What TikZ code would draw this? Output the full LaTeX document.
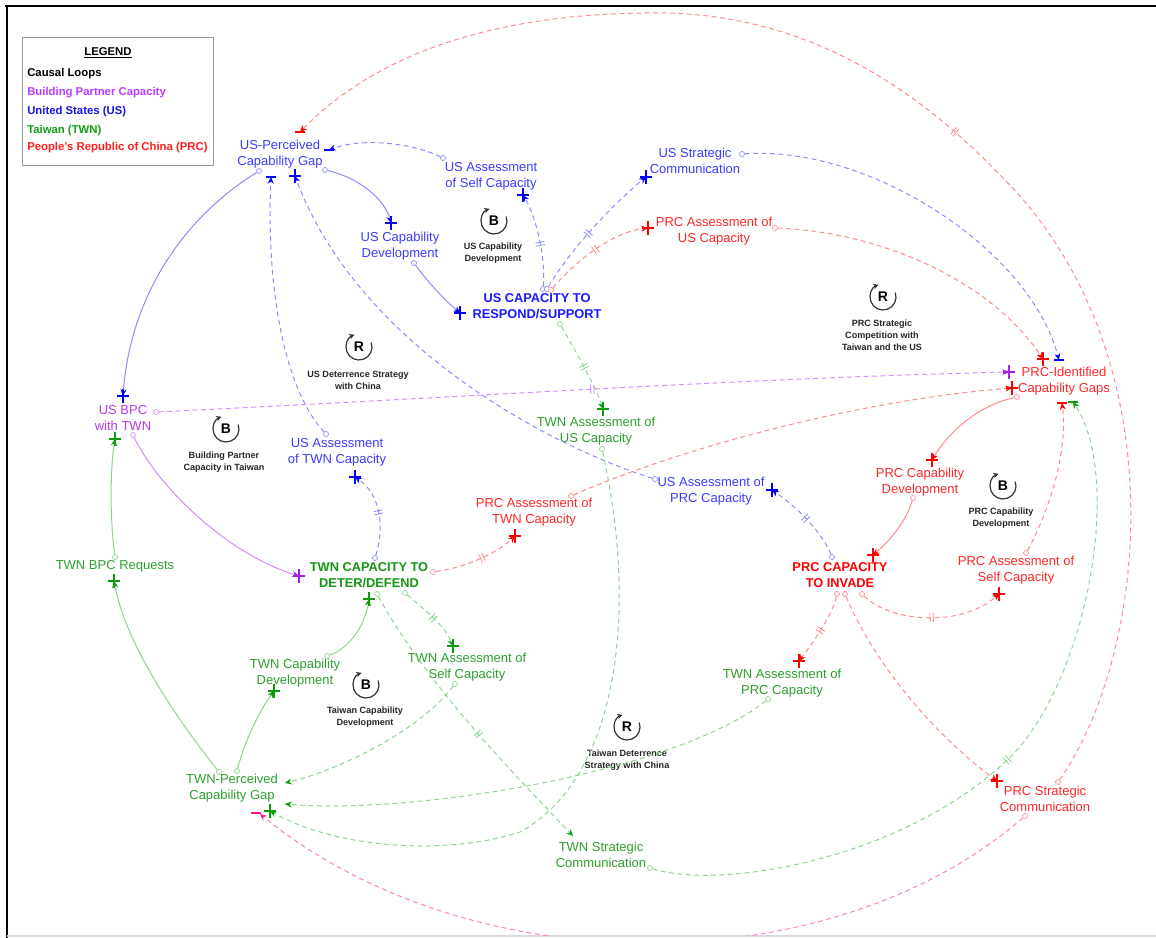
\documentclass[tikz,border=0pt]{standalone}
\usepackage{fontspec}
\setmainfont{Liberation Sans}
\usetikzlibrary{arrows.meta,decorations.markings}

% palette
\definecolor{usT}{RGB}{60,60,255}
\definecolor{usB}{RGB}{25,25,255}
\definecolor{usS}{RGB}{0,0,255}
\definecolor{usL}{RGB}{140,140,255}
\definecolor{prcT}{RGB}{255,40,40}
\definecolor{prcS}{RGB}{255,0,0}
\definecolor{prcL}{RGB}{255,140,140}
\definecolor{twnT}{RGB}{45,160,45}
\definecolor{twnB}{RGB}{20,150,20}
\definecolor{twnS}{RGB}{10,155,10}
\definecolor{twnL}{RGB}{140,215,140}
\definecolor{bpcT}{RGB}{180,60,230}
\definecolor{bpcS}{RGB}{165,30,240}
\definecolor{bpcL}{RGB}{210,140,255}
\definecolor{pinkL}{RGB}{255,130,200}
\definecolor{pinkS}{RGB}{255,20,140}

\tikzset{
  var/.style={align=center,inner sep=1pt,font=\fontsize{9.75}{12}\selectfont},
  key/.style={align=center,inner sep=1pt,font=\fontsize{9.6}{12}\selectfont\bfseries},
  looptxt/.style={align=center,inner sep=0pt,font=\fontsize{6.8}{9}\selectfont\bfseries,text=black!85},
  legtxt/.style={anchor=west,inner sep=0pt,font=\fontsize{8.5}{10}\selectfont\bfseries},
  tailo/.style={circle,fill=white,inner sep=0pt,minimum size=3.8pt,line width=0.5pt},
  lk/.style={line width=0.75pt},
  dsh/.style={dash pattern=on 3.6pt off 2.7pt},
  lkU/.style={lk,color=usL,-{Stealth[length=5pt,width=4.5pt,color=usS]}},
  lkR/.style={lk,color=prcL,-{Stealth[length=5pt,width=4.5pt,color=prcS]}},
  lkG/.style={lk,color=twnL,-{Stealth[length=5pt,width=4.5pt,color=twnS]}},
  lkP/.style={lk,color=bpcL,-{Stealth[length=5pt,width=4.5pt,color=bpcS]}},
  lkK/.style={lk,color=pinkL,-{Stealth[length=5pt,width=4.5pt,color=pinkS]}},
  delaymark/.style={postaction={decorate},decoration={markings,
      mark=at position #1 with {\draw[solid,arrows=-,line width=0.6pt] (-1.6,-4.5)--(-1.6,4.5) (1.6,-4.5)--(1.6,4.5);}}},
  psign/.pic={\draw[line width=1.9pt] (-6,0)--(6,0) (0,-7)--(0,7);},
  msign/.pic={\draw[line width=1.9pt] (-5,0)--(5,0);},
  loopsym/.pic={\draw[line width=0.9pt,black!80,-{Stealth[length=4pt,width=4pt]}] (-20:13) arc[start angle=-20,end angle=250,radius=13];
                \node[font=\fontsize{10.5}{11}\selectfont\bfseries] {\tikzpictext};},
}

\begin{document}
\begin{tikzpicture}[x=0.75pt,y=-0.75pt]
\useasboundingbox (0,0) rectangle (1156,938);
\fill[white] (0,0) rectangle (1156,938);

% frame
\draw[line width=1.6pt] (5,6) -- (1156,6);
\draw[line width=1.6pt] (7,6) -- (7,938);
\draw[black!15,line width=1pt] (7,936) -- (1156,936);

% legend
\node[draw=black!40,line width=0.9pt,anchor=north west,minimum width=143.25pt,minimum height=96pt,inner sep=0pt] (legend) at (22,37) {};
\node[inner sep=0pt,font=\fontsize{8.5}{10}\selectfont\bfseries] (legtitle) at (108,53) {\underline{LEGEND}};
\node[legtxt,text=black] (leg1) at (27,74) {Causal Loops};
\node[legtxt,text={rgb,255:red,185;green,60;blue,255}] (leg2) at (27,93) {Building Partner Capacity};
\node[legtxt,text={rgb,255:red,20;green,20;blue,230}] (leg3) at (27,112) {United States (US)};
\node[legtxt,text={rgb,255:red,20;green,160;blue,20}] (leg4) at (27,131) {Taiwan (TWN)};
\node[legtxt,text={rgb,255:red,255;green,30;blue,30}] (leg5) at (27,148) {People's Republic of China (PRC)};

% loop markers
\pic[pic text=B] (loopA) at (494,221) {loopsym};
\node[looptxt] (loopAt) at (493,253) {US Capability\\Development};
\pic[pic text=R] (loopB) at (883,297) {loopsym};
\node[looptxt] (loopBt) at (882,335) {PRC Strategic\\Competition with\\Taiwan and the US};
\pic[pic text=R] (loopC) at (359,347) {loopsym};
\node[looptxt] (loopCt) at (358,380) {US Deterrence Strategy\\with China};
\pic[pic text=B] (loopD) at (226,429) {loopsym};
\node[looptxt] (loopDt) at (224,462) {Building Partner\\Capacity in Taiwan};
\pic[pic text=B] (loopE) at (1003,486) {loopsym};
\node[looptxt] (loopEt) at (1001,518) {PRC Capability\\Development};
\pic[pic text=B] (loopF) at (366,685) {loopsym};
\node[looptxt] (loopFt) at (365,717) {Taiwan Capability\\Development};
\pic[pic text=R] (loopG) at (627,727) {loopsym};
\node[looptxt] (loopGt) at (627,760) {Taiwan Deterrence\\Strategy with China};

% variables
\node[var,text=usT] (usgap) at (280,154) {US-Perceived\\Capability Gap};
\node[var,text=usT] (usself) at (491,176) {US Assessment\\of Self Capacity};
\node[var,text=usT] (usstrat) at (695,161) {US Strategic\\Communication};
\node[var,text=prcT] (prcassus) at (714,231) {PRC Assessment of\\US Capacity};
\node[var,text=usT] (uscapdev) at (400,246) {US Capability\\Development};
\node[key,text=usB] (uscap) at (537,306) {US CAPACITY TO\\RESPOND/SUPPORT};
\node[var,text=prcT] (prcgaps) at (1064,381) {PRC-Identified\\Capability Gaps};
\node[var,text=bpcT] (usbpc) at (123,418) {US BPC\\with TWN};
\node[var,text=usT] (usasstwn) at (337,452) {US Assessment\\of TWN Capacity};
\node[var,text=twnT] (twnassus) at (596,431) {TWN Assessment of\\US Capacity};
\node[var,text=usT] (usassprc) at (711,491) {US Assessment of\\PRC Capacity};
\node[var,text=prcT] (prcasstwn) at (534,512) {PRC Assessment of\\TWN Capacity};
\node[var,text=prcT] (prccapdev) at (920,482) {PRC Capability\\Development};
\node[var,text=prcT] (prcself) at (1016,570) {PRC Assessment of\\Self Capacity};
\node[var,text=twnT] (twnbpc) at (115,566) {TWN BPC Requests};
\node[key,text=twnB] (twncap) at (369,575) {TWN CAPACITY TO\\DETER/DEFEND};
\node[key,text=prcS] (prccap) at (840,575) {PRC CAPACITY\\TO INVADE};
\node[var,text=twnT] (twncapdev) at (295,673) {TWN Capability\\Development};
\node[var,text=twnT] (twnself) at (467,667) {TWN Assessment of\\Self Capacity};
\node[var,text=twnT] (twnassprc) at (782,683) {TWN Assessment of\\PRC Capacity};
\node[var,text=twnT] (twngap) at (232,788) {TWN-Perceived\\Capability Gap};
\node[var,text=twnT] (twnstrat) at (601,855) {TWN Strategic\\Communication};
\node[var,text=prcT] (prcstrat) at (1045,799) {PRC Strategic\\Communication};

% link tails (small open circles)
\node[tailo,draw=usL]  (t1)  at (325,170) {};
\node[tailo,draw=usL]  (t2)  at (414,263) {};
\node[tailo,draw=usL]  (t3)  at (543,289) {};
\node[tailo,draw=usL]  (t4)  at (443,158) {};
\node[tailo,draw=usL]  (t5)  at (547,289) {};
\node[tailo,draw=prcL] (t6)  at (551,290) {};
\node[tailo,draw=usL]  (t7)  at (742,154) {};
\node[tailo,draw=prcL] (t8)  at (775,228) {};
\node[tailo,draw=bpcL] (t9)  at (156,412) {};
\node[tailo,draw=prcL] (t10) at (571,496) {};
\node[tailo,draw=prcL] (t11) at (1017,397) {};
\node[tailo,draw=prcL] (t12) at (913,498) {};
\node[tailo,draw=prcL] (t13) at (862,594) {};
\node[tailo,draw=prcL] (t14) at (1026,553) {};
\node[tailo,draw=prcL] (t15) at (837,594) {};
\node[tailo,draw=prcL] (t16) at (845,594) {};
\node[tailo,draw=pinkL] (t17) at (1025,816) {};
\node[tailo,draw=prcL] (t18) at (1058,782) {};
\node[tailo,draw=twnL] (t19) at (560,324) {};
\node[tailo,draw=twnL] (t20) at (602,449) {};
\node[tailo,draw=twnL] (t21) at (768,699) {};
\node[tailo,draw=twnL] (t22) at (455,684) {};
\node[tailo,draw=twnL] (t23) at (405,593) {};
\node[tailo,draw=twnL] (t24) at (377,594) {};
\node[tailo,draw=twnL] (t25) at (650,868) {};
\node[tailo,draw=twnL] (t26) at (237,771) {};
\node[tailo,draw=twnL] (t27) at (327,656) {};
\node[tailo,draw=twnL] (t28) at (219,772) {};
\node[tailo,draw=twnL] (t29) at (115,557) {};
\node[tailo,draw=bpcL] (t30) at (133,435) {};
\node[tailo,draw=usL]  (t31) at (259,171) {};
\node[tailo,draw=usL]  (t32) at (326,434) {};
\node[tailo,draw=usL]  (t33) at (655,479) {};
\node[tailo,draw=usL]  (t34) at (375,558) {};
\node[tailo,draw=usL]  (t35) at (832,557) {};
\node[tailo,draw=prcL] (t36) at (433,572) {};

% link heads
\coordinate (h1)  at (391,223);
\coordinate (h2)  at (460,313);
\coordinate (h3)  at (523,195);
\coordinate (h4)  at (329,150);
\coordinate (h5)  at (646,177);
\coordinate (h6)  at (648,228);
\coordinate (h7)  at (1059,360);
\coordinate (h8)  at (1043,359);
\coordinate (h9)  at (1009,372);
\coordinate (h10) at (1012,388);
\coordinate (h11) at (932,460);
\coordinate (h12) at (873,555);
\coordinate (h13) at (999,594);
\coordinate (h14) at (1062,403);
\coordinate (h15) at (799,661);
\coordinate (h16) at (997,781);
\coordinate (h17) at (260,814);
\coordinate (h17s) at (256,813);
\coordinate (h18) at (300,132);
\coordinate (h19) at (603,409);
\coordinate (h20) at (270,811);
\coordinate (h21) at (285,804);
\coordinate (h22) at (285,783);
\coordinate (h23) at (453,646);
\coordinate (h24) at (573,836);
\coordinate (h25) at (1073,402);
\coordinate (h26) at (274,691);
\coordinate (h27) at (369,599);
\coordinate (h28) at (114,581);
\coordinate (h29) at (115,439);
\coordinate (h30) at (299,576);
\coordinate (h31) at (123,396);
\coordinate (h32) at (271,177);
\coordinate (h33) at (295,176);
\coordinate (h34) at (355,477);
\coordinate (h35) at (772,490);
\coordinate (h36) at (515,536);

\begin{scope}
\clip (8,7) rectangle (1156,935);
% United States links
\draw[lkU] (t1) .. controls (360,178) and (385,200) .. (h1);
\draw[lkU] (t2) .. controls (430,285) and (447,302) .. (h2);
\draw[lkU,dsh,delaymark=0.45] (t3) .. controls (546,255) and (535,215) .. (h3);
\draw[lkU,dsh] (t4) .. controls (410,142) and (360,138) .. (h4);
\draw[lkU,dsh,delaymark=0.45] (t5) .. controls (570,250) and (612,205) .. (h5);
\draw[lkU,dsh] (t7) .. controls (870,145) and (1030,250) .. (h7);
\draw[lkU] (t31) .. controls (180,220) and (130,300) .. (h31);
\draw[lkU,dsh] (t32) .. controls (285,390) and (266,290) .. (h32);
\draw[lkU,dsh] (t33) .. controls (560,450) and (360,350) .. (h33);
\draw[lkU,dsh,delaymark=0.5] (t34) .. controls (384,530) and (382,495) .. (h34);
\draw[lkU,dsh,delaymark=0.5] (t35) .. controls (822,532) and (797,507) .. (h35);
% PRC links
\draw[lkR,dsh,delaymark=0.5] (t6) .. controls (575,262) and (612,232) .. (h6);
\draw[lkR,dsh] (t8) .. controls (880,232) and (990,280) .. (h8);
\draw[lkR,dsh] (t10) .. controls (700,440) and (880,398) .. (h10);
\draw[lkR] (t11) .. controls (980,405) and (950,430) .. (h11);
\draw[lkR] (t12) .. controls (905,525) and (885,545) .. (h12);
\draw[lkR,dsh,delaymark=0.5] (t13) .. controls (890,622) and (960,628) .. (h13);
\draw[lkR,dsh] (t14) .. controls (1050,510) and (1068,450) .. (h14);
\draw[lkR,dsh,delaymark=0.5] (t15) .. controls (832,615) and (815,640) .. (h15);
\draw[lkR,dsh] (t16) .. controls (875,665) and (935,735) .. (h16);
\draw[lkK,dsh] (t17) .. controls (830,985) and (470,985) .. (h17);
\draw[lkR,dsh,delaymark=0.5] (t18) .. controls (1150,650) and (1178,350) .. (1000,175)
      .. controls (880,50) and (760,10) .. (643,13) .. controls (500,15) and (380,50) .. (h18);
\draw[lkR,dsh,delaymark=0.55] (t36) .. controls (462,568) and (495,555) .. (h36);
% Taiwan links
\draw[lkG,dsh,delaymark=0.5] (t19) .. controls (575,350) and (595,385) .. (h19);
\draw[lkG,dsh] (t20) .. controls (640,620) and (615,780) .. (520,832) .. controls (450,855) and (340,850) .. (h20);
\draw[lkG,dsh] (t21) .. controls (680,770) and (420,815) .. (h21);
\draw[lkG,dsh] (t22) .. controls (420,730) and (340,770) .. (h22);
\draw[lkG,dsh,delaymark=0.5] (t23) .. controls (420,606) and (445,625) .. (h23);
\draw[lkG,dsh,delaymark=0.55] (t24) .. controls (430,690) and (520,780) .. (h24);
\draw[lkG,dsh,delaymark=0.5] (t25) .. controls (720,890) and (900,860) .. (1005,762)
      .. controls (1085,690) and (1125,480) .. (h25);
\draw[lkG] (t26) .. controls (245,740) and (260,710) .. (h26);
\draw[lkG] (t27) .. controls (350,648) and (365,625) .. (h27);
\draw[lkG] (t28) .. controls (170,710) and (125,640) .. (h28);
\draw[lkG] (t29) .. controls (110,520) and (110,470) .. (h29);
% partner capacity links
\draw[lkP,dsh,delaymark=0.51] (t9) .. controls (450,398) and (750,378) .. (h9);
\draw[lkP] (t30) .. controls (160,490) and (230,555) .. (h30);
\end{scope}

% polarity signs
\pic[usS] at (h1) {psign};
\pic[usS] at (h2) {psign};
\pic[usS] at (h3) {psign};
\pic[usS] at (h4) {msign};
\pic[usS] at (h5) {psign};
\pic[prcS] at (h6) {psign};
\pic[usS] at (h7) {msign};
\pic[prcS] at (h8) {psign};
\pic[bpcS] at (h9) {psign};
\pic[prcS] at (h10) {psign};
\pic[prcS] at (h11) {psign};
\pic[prcS] at (h12) {psign};
\pic[prcS] at (h13) {psign};
\pic[prcS] at (h14) {msign};
\pic[prcS] at (h15) {psign};
\pic[prcS] at (h16) {psign};
\pic[pinkS] at (h17s) {msign};
\pic[prcS] at (h18) {msign};
\pic[twnS] at (h19) {psign};
\pic[twnS] at (h20) {psign};
\pic[twnS] at (h23) {psign};
\pic[twnS] at (h25) {msign};
\pic[twnS] at (h26) {psign};
\pic[twnS] at (h27) {psign};
\pic[twnS] at (h28) {psign};
\pic[twnS] at (h29) {psign};
\pic[bpcS] at (h30) {psign};
\pic[usS] at (h31) {psign};
\pic[usS] at (h32) {msign};
\pic[usS] at (h33) {psign};
\pic[usS] at (h34) {psign};
\pic[usS] at (h35) {psign};
\pic[prcS] at (h36) {psign};
\end{tikzpicture}
\end{document}
